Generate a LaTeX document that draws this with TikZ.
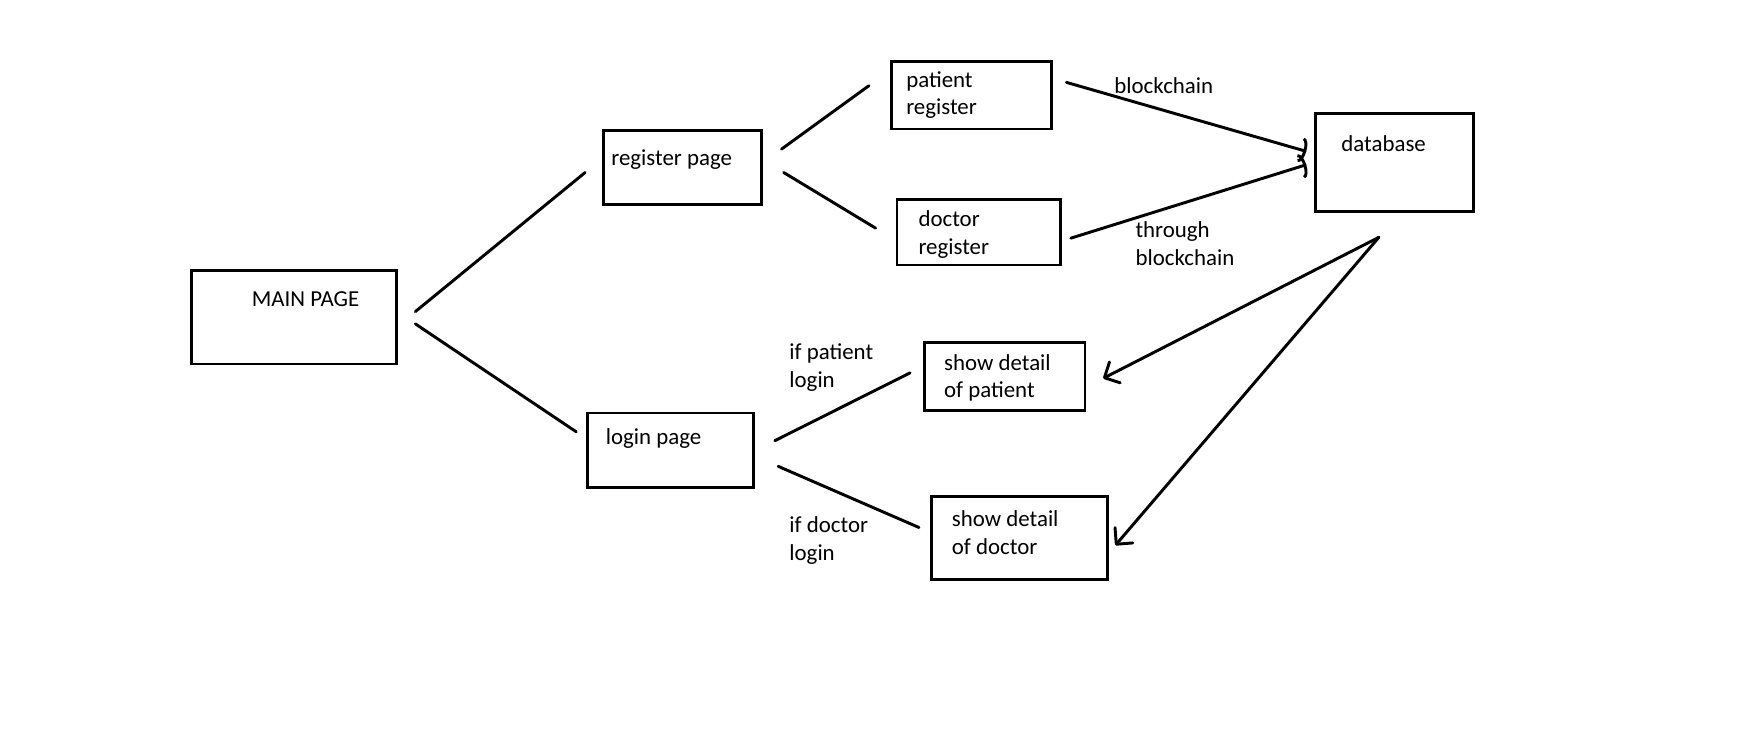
\documentclass[tikz,border=0pt]{standalone}
\usepackage{fontspec}
\setmainfont{Carlito}
\usetikzlibrary{arrows.meta}
\tikzset{
	box/.style={draw,line width=1.4pt,inner sep=0pt},
	txt/.style={anchor=west,inner sep=0pt,align=left,font=\fontsize{11.7}{14.2}\selectfont},
	link/.style={line width=1.5pt,line cap=round},
	todb/.style={link,-{Arc Barb[length=3pt,width=13pt]}},
	fromdb/.style={link,-{Straight Barb[length=6pt,width=12pt,round]}}
}

\begin{document}
\begin{tikzpicture}[x=0.02cm,y=-0.02cm]
	\useasboundingbox (0,0) rectangle (1568,668.5);
	% boxes
	\node[box,minimum width=3.68cm,minimum height=1.68cm] (main) at (264,285) {};
	\node[box,minimum width=2.84cm,minimum height=1.34cm] (reg) at (613,150.5) {};
	\node[box,minimum width=2.88cm,minimum height=1.22cm] (preg) at (873,85.5) {};
	\node[box,minimum width=2.94cm,minimum height=1.18cm] (dreg) at (879.5,208.5) {};
	\node[box,minimum width=2.84cm,minimum height=1.76cm] (db) at (1253,146) {};
	\node[box,minimum width=2.98cm,minimum height=1.34cm] (login) at (602.5,404.5) {};
	\node[box,minimum width=2.88cm,minimum height=1.22cm] (spat) at (903,338.5) {};
	\node[box,minimum width=3.16cm,minimum height=1.5cm] (sdoc) at (916,483.5) {};
	% texts
	\node[txt] (tmain) at (226,269) {MAIN PAGE};
	\node[txt] (treg) at (549,143) {register page};
	\node[txt] (tpreg) at (814,85.5) {patient\\register};
	\node[txt] (tdreg) at (825,210.5) {doctor\\register};
	\node[txt] (tdb) at (1205,129) {database};
	\node[txt] (tlogin) at (544,394) {login page};
	\node[txt] (tspat) at (848,339.5) {show detail\\of patient};
	\node[txt] (tsdoc) at (855,478.5) {show detail\\of doctor};
	\node[txt] (lbc) at (1001,77) {blockchain};
	\node[txt] (ltbc) at (1020,219) {through\\blockchain};
	\node[txt] (lpat) at (709,330.5) {if patient\\login};
	\node[txt] (ldoc) at (709,485.5) {if doctor\\login};
	% connectors
	\draw[link] ([shift={(16,-5)}]main.east) -- ([shift={(-15,4.5)}]reg.west);
	\draw[link] ([shift={(16,6)}]main.east) -- ([shift={(-9,-16.5)}]login.west);
	\draw[link] ([shift={(17,-16.5)}]reg.east) -- ([shift={(-19,-8.5)}]preg.west);
	\draw[link] ([shift={(19,4.5)}]reg.east) -- ([shift={(-18,-3.5)}]dreg.west);
	\draw[link] ([shift={(18,-8.5)}]login.east) -- ([shift={(-12,-3.5)}]spat.west);
	\draw[link] ([shift={(21,14.5)}]login.east) -- ([shift={(-10,-9.5)}]sdoc.west);
	\draw[todb] ([shift={(12,-11.5)}]preg.east) -- ([shift={(-7,-10)}]db.west);
	\draw[todb] ([shift={(8,5.5)}]dreg.east) -- ([shift={(-7,2)}]db.west);
	\draw[fromdb] ([shift={(-14,22)}]db.south) -- ([shift={(15,1.5)}]spat.east);
	\draw[fromdb] ([shift={(-14,22)}]db.south) -- ([shift={(6,6.5)}]sdoc.east);
\end{tikzpicture}
\end{document}
